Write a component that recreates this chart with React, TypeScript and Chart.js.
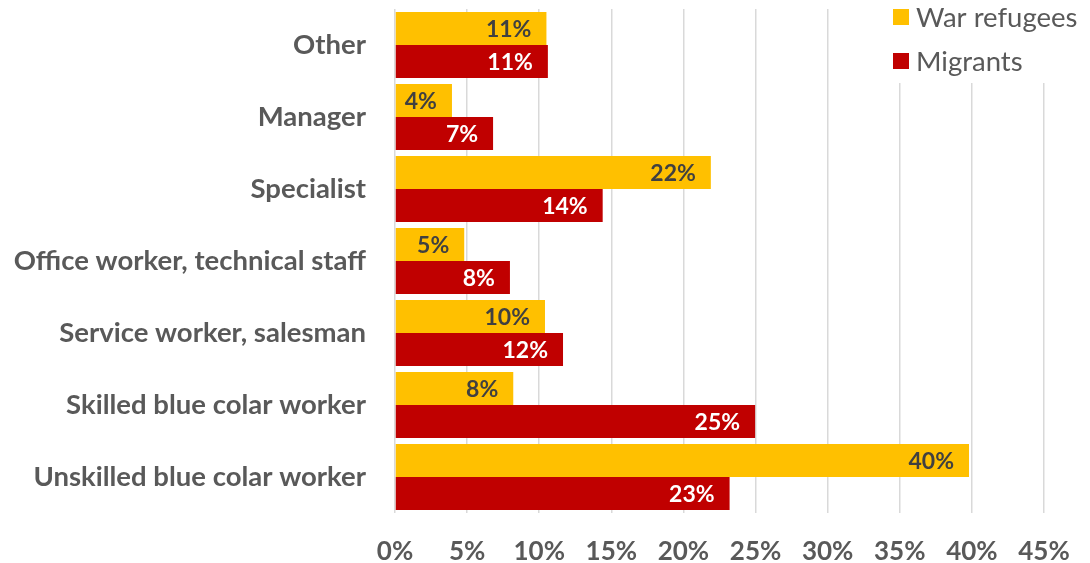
import React, { useEffect, useRef } from "react";
import { Chart, registerables } from "chart.js";

Chart.register(...registerables);

const categories = [
  "Other",
  "Manager",
  "Specialist",
  "Office worker, technical staff",
  "Service worker, salesman",
  "Skilled blue colar worker",
  "Unskilled blue colar worker",
];
const warRefugees = [10.5, 3.95, 21.9, 4.8, 10.4, 8.2, 39.8];
const migrants = [10.6, 6.8, 14.4, 7.97, 11.65, 24.97, 23.2];
const seriesNames = ["War refugees", "Migrants"];
const seriesColors = ["#FFC000", "#C00000"];
const labelColors = ["#404040", "#FFFFFF"];
const xTicksMax = 45;
const xStep = 5;

const FONT = "Lato, sans-serif";

const labelPlugin = {
  id: "barLabels",
  afterDatasetsDraw(chart: any) {
    const ctx = chart.ctx;
    ctx.save();
    ctx.font = `bold 23px ${FONT}`;
    ctx.textAlign = "right";
    ctx.textBaseline = "middle";
    chart.data.datasets.forEach((ds: any, di: number) => {
      const meta = chart.getDatasetMeta(di);
      meta.data.forEach((bar: any, i: number) => {
        const v = ds.data[i];
        ctx.fillStyle = labelColors[di];
        ctx.fillText(Math.round(v) + "%", bar.x - 15, bar.y + 1);
      });
    });
    ctx.restore();
  },
};

const legendPlugin = {
  id: "customLegend",
  afterDraw(chart: any) {
    const ctx = chart.ctx;
    ctx.save();
    ctx.fillStyle = "#FFFFFF";
    ctx.fillRect(882, 0, 208, 83);
    ctx.font = `27.5px ${FONT}`;
    ctx.textAlign = "left";
    ctx.textBaseline = "middle";
    const rows = [17, 61];
    seriesNames.forEach((n, i) => {
      ctx.fillStyle = seriesColors[i];
      ctx.fillRect(893, rows[i] - 8, 16, 16);
      ctx.fillStyle = "#595959";
      ctx.fillText(n, 916, rows[i] + 1);
    });
    ctx.restore();
  },
};

export default function App() {
  const ref = useRef<HTMLCanvasElement>(null);
  useEffect(() => {
    document.body.style.margin = "0";
    const chart = new Chart(ref.current!, {
      type: "bar",
      data: {
        labels: categories,
        datasets: [
          { label: seriesNames[0], data: warRefugees, backgroundColor: seriesColors[0] },
          { label: seriesNames[1], data: migrants, backgroundColor: seriesColors[1] },
        ],
      },
      options: {
        indexAxis: "y",
        responsive: false,
        animation: false,
        layout: { padding: { top: 9, right: 46, left: 0, bottom: 0 } },
        datasets: { bar: { categoryPercentage: 0.917, barPercentage: 1 } },
        plugins: { legend: { display: false }, tooltip: { enabled: false } },
        scales: {
          x: {
            min: 0,
            max: xTicksMax,
            ticks: {
              stepSize: xStep,
              callback: (v: any) => v + "%",
              color: "#595959",
              font: { family: FONT, size: 26, weight: "bold" },
              padding: 23,
              maxRotation: 0,
            },
            grid: { color: "#D9D9D9", drawTicks: false, lineWidth: 1.5 },
            border: { display: false },
            afterFit: (s: any) => {
              s.height = 50;
              s.paddingLeft = 0;
              s.paddingRight = 0;
            },
          },
          y: {
            ticks: {
              color: "#595959",
              font: { family: FONT, size: 27.5, weight: "bold" },
              padding: 29,
            },
            grid: { display: false, drawTicks: false },
            border: { display: false },
            afterFit: (s: any) => {
              s.width = 395;
              s.paddingTop = 0;
              s.paddingBottom = 0;
            },
          },
        },
      },
      plugins: [labelPlugin, legendPlugin],
    });
    return () => chart.destroy();
  }, []);
  return (
    <div style={{ width: 1090, height: 563 }}>
      <canvas ref={ref} width={1090} height={563} />
    </div>
  );
}
